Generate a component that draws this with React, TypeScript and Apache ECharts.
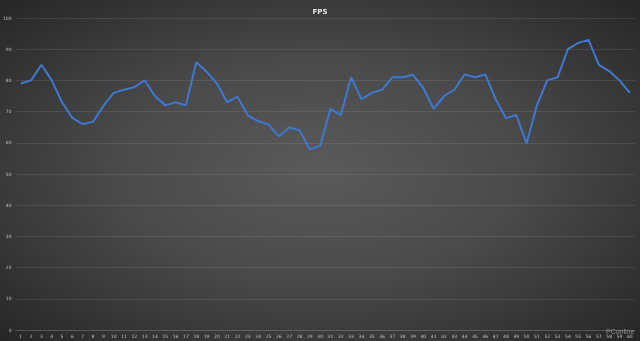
import React, { useEffect, useRef } from "react";
import * as echarts from "echarts";

const categories: string[] = Array.from({ length: 60 }, (_, i) => String(i + 1));
const fps: number[] = [
  79, 80, 85, 80, 73, 68, 66, 66.7, 71.8, 76,
  77, 77.8, 80, 75, 72, 73, 72, 85.8, 82.8, 79,
  73, 74.8, 68.8, 66.9, 65.9, 62, 65, 64, 57.9, 59,
  70.9, 68.9, 81, 74, 76, 77, 81, 81, 81.8, 77.5,
  70.9, 75, 77, 81.9, 81, 81.9, 74, 67.9, 68.9, 59.8,
  72, 80, 81, 90, 92, 93, 85, 83, 80, 76,
];
const yTicks = { min: 0, max: 100, interval: 10 };

export default function App() {
  const ref = useRef<HTMLDivElement>(null);
  useEffect(() => {
    if (!ref.current) return;
    const chart = echarts.init(ref.current, undefined, { renderer: "svg" });
    chart.setOption({
      animation: false,
      backgroundColor: "transparent",
      title: {
        text: "FPS",
        left: "center",
        top: 3,
        textStyle: { color: "#e8e8e8", fontSize: 7, fontWeight: "bold", fontFamily: "DejaVu Sans" },
      },
      grid: { left: 13.3, right: 5, top: 18, bottom: 11, containLabel: false },
      xAxis: {
        type: "category",
        data: categories,
        boundaryGap: true,
        axisLine: { show: true, lineStyle: { color: "rgba(255,255,255,0.12)" } },
        axisTick: { show: false },
        axisLabel: { color: "#c0c0c0", fontSize: 4.5, margin: 4, interval: 0, fontFamily: "DejaVu Sans" },
        splitLine: { show: false },
      },
      yAxis: {
        type: "value",
        min: yTicks.min,
        max: yTicks.max,
        interval: yTicks.interval,
        axisLine: { show: false },
        axisTick: { show: false },
        axisLabel: { color: "#c0c0c0", fontSize: 4.5, margin: 4, fontFamily: "DejaVu Sans" },
        splitLine: { show: true, lineStyle: { color: "rgba(255,255,255,0.09)", width: 1 } },
      },
      series: [
        {
          type: "line",
          data: fps,
          symbol: "none",
          lineStyle: { color: "#3f78d2", width: 2 },
        },
      ],
      graphic: [
        {
          type: "text",
          left: 606,
          top: 328,
          style: { text: "PConline", fill: "rgba(200,200,200,0.6)", fontSize: 7, fontFamily: "Liberation Sans" },
        },
      ],
    });
    return () => chart.dispose();
  }, []);
  return (
    <div
      ref={ref}
      style={{
        position: "fixed",
        left: 0,
        top: 0,
        width: 640,
        height: 341,
        background: "radial-gradient(ellipse at 50% 50%, #5a5a5a 0%, #4a4a4a 45%, #262626 100%)",
      }}
    />
  );
}
